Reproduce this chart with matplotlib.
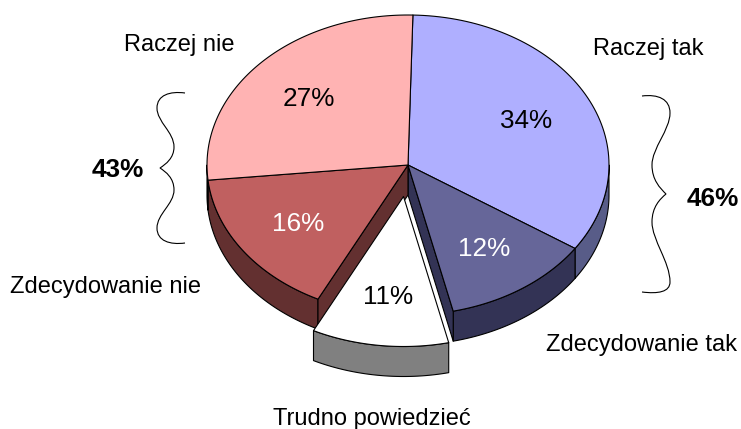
import numpy as np
import matplotlib
matplotlib.use('Agg')
import matplotlib.pyplot as plt
from matplotlib.patches import Polygon, PathPatch
from matplotlib.path import Path

plt.rcParams['font.family'] = ['Liberation Sans', 'DejaVu Sans']

# kolejnosc zgodnie z ruchem wskazowek zegara, od gory
categories = ['Raczej tak', 'Zdecydowanie tak', 'Trudno powiedzieć', 'Zdecydowanie nie', 'Raczej nie']
shares = [34, 12, 11, 16, 27]
tops = ['#AFAFFF', '#666699', '#FFFFFF', '#C06060', '#FFB3B3']
sides = ['#585C88', '#333355', '#808080', '#633030', '#805A5A']
pct_colors = ['black', 'white', 'black', 'white', 'black']
pct_pos = [(526, 121), (484, 249), (388, 297), (298, 224), (309, 99)]
label_pos = [(648, 48.5), (641, 345.5), (372, 419.5), (105, 287.5), (179, 44.5)]
sums = ['46%', '43%']
sum_pos = [(713, 199), (118, 170)]

cx, cy, rx, ry = 408, 165, 201, 150
depth = 30
start = 1.4
offset = (-4.5, 31.5)

fig = plt.figure(figsize=(7.41, 4.29), dpi=100)
ax = fig.add_axes([0, 0, 1, 1])
ax.set_xlim(0, 741)
ax.set_ylim(429, 0)
ax.axis('off')


def arc(a, b, dx=0, dy=0):
    t = np.radians(np.linspace(a, b, 80))
    return np.column_stack([cx + dx + rx * np.sin(t), cy + dy - ry * np.cos(t)])


def poly(pts, fc, z):
    ax.add_patch(Polygon(pts, closed=True, fc=fc, ec='black', lw=0.8, joinstyle='round', zorder=z))


edges = start + np.cumsum([0] + shares) * 3.6
exploded = 2

# sciany boczne
for i in range(len(shares)):
    if i == exploded:
        continue
    a, b = edges[i], edges[i + 1]
    lo, hi = max(a, 90), min(b, 270)
    if lo < hi:
        top = arc(lo, hi)
        poly(np.vstack([top, top[::-1] + [0, depth]]), sides[i], 1)

# sciany przy wysunietym kawalku
for ang, i in [(edges[exploded], 1), (edges[exploded + 1], 3)]:
    p = arc(ang, ang)[0]
    poly([(cx, cy), p, p + [0, depth], (cx, cy + depth)], sides[i], 2)

# wierzch
for i in range(len(shares)):
    if i == exploded:
        continue
    poly(np.vstack([[(cx, cy)], arc(edges[i], edges[i + 1])]), tops[i], 3)

# wysuniety kawalek
dx, dy = offset
a, b = edges[exploded], edges[exploded + 1]
top = arc(a, b, dx, dy)
poly(np.vstack([top, top[::-1] + [0, depth]]), sides[exploded], 4)
poly(np.vstack([[(cx + dx, cy + dy)], top]), tops[exploded], 5)

for s, p, c in zip(shares, pct_pos, pct_colors):
    ax.text(p[0], p[1], f'{s}%', color=c, fontsize=18.8, ha='center', va='center', zorder=6)
for name, p in zip(categories, label_pos):
    ax.text(p[0], p[1], name, color='black', fontsize=17, ha='center', va='center', zorder=6)
for s, p in zip(sums, sum_pos):
    ax.text(p[0], p[1], s, color='black', fontsize=18.8, fontweight='bold', ha='center', va='center', zorder=6)

# klamry
C = Path.CURVE4
left = [(185, 93), (170, 91), (157, 95), (157, 108), (157, 122), (174, 132), (174, 147),
        (174, 158), (166, 164), (160, 168), (166, 172), (174, 178), (174, 190),
        (174, 204), (157, 214), (157, 228), (157, 241), (170, 245), (185, 243)]
right = [(642, 96), (658, 94), (670, 99), (670, 113), (670, 130), (652, 148), (652, 165),
         (652, 180), (660, 188), (666, 194), (660, 199), (652, 207), (652, 222),
         (652, 240), (670, 262), (670, 282), (670, 292), (658, 294), (642, 292)]
for br in (left, right):
    codes = [Path.MOVETO] + [C] * (len(br) - 1)
    ax.add_patch(PathPatch(Path(br, codes), fc='none', ec='black', lw=0.8, zorder=6))

fig.savefig('out.png', dpi=100)
